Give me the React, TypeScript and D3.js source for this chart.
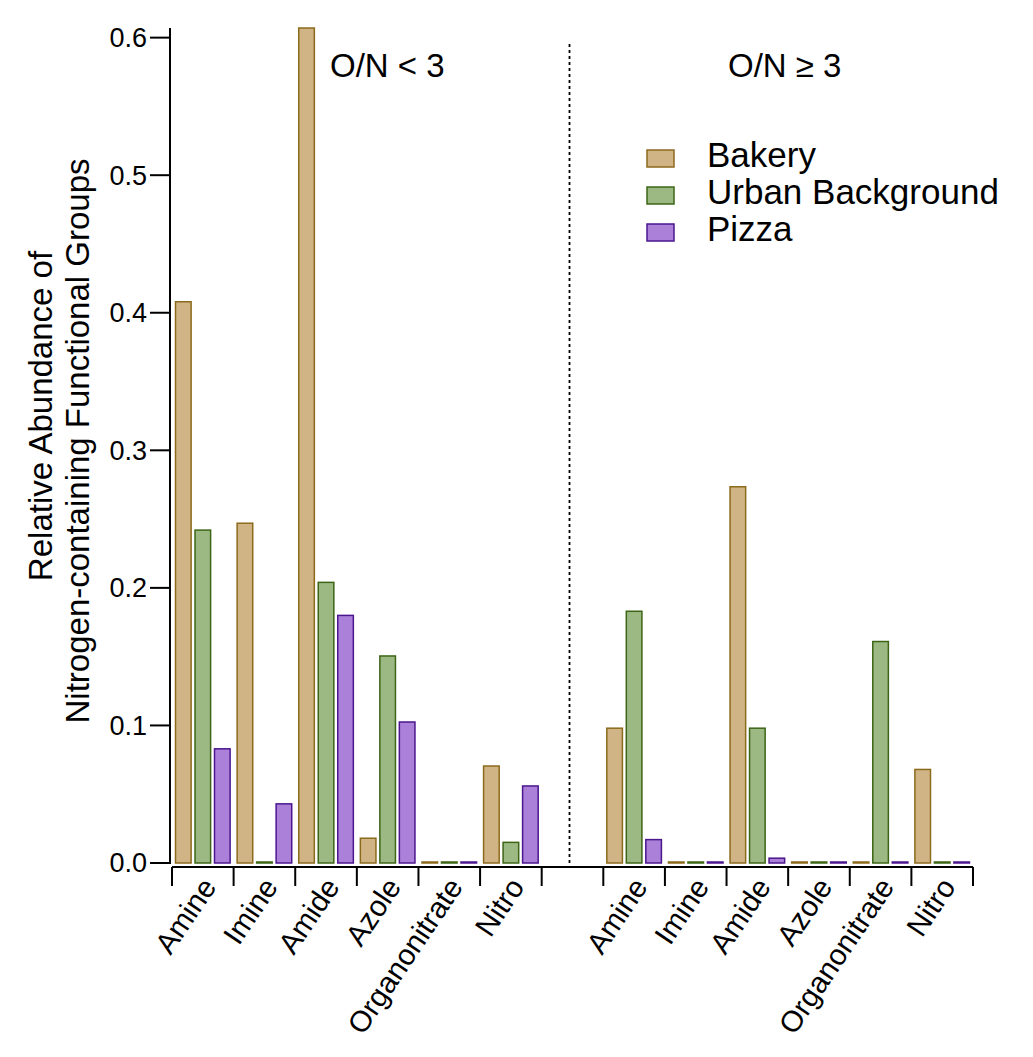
import React from 'react';
import * as d3 from 'd3';

// Functional groups (same set in both O/N panels)
const categories = ['Amine', 'Imine', 'Amide', 'Azole', 'Organonitrate', 'Nitro'];
const seriesNames = ['Bakery', 'Urban Background', 'Pizza'];

// O/N < 3
const lowBakery = [0.408, 0.247, 0.607, 0.018, 0, 0.0705];
const lowUrban = [0.242, 0, 0.204, 0.1505, 0, 0.015];
const lowPizza = [0.083, 0.043, 0.18, 0.1025, 0, 0.056];

// O/N >= 3
const highBakery = [0.098, 0, 0.2735, 0, 0, 0.068];
const highUrban = [0.183, 0, 0.098, 0, 0.161, 0];
const highPizza = [0.017, 0, 0.0035, 0, 0, 0];

const yTicks = [0, 0.1, 0.2, 0.3, 0.4, 0.5, 0.6];
const panelTitles = ['O/N < 3', 'O/N \u2265 3'];

const fills = ['#d0b486', '#9db983', '#aa80d8'];
const strokes = ['#8c6a1c', '#3c6516', '#4c168f'];

const FONT = '"Liberation Sans", Arial, Helvetica, sans-serif';

interface Slot {
  key: string;
  label: string | null;
  values: number[];
}

const slots: Slot[] = [
  ...categories.map((c, i) => ({ key: 'low-' + c, label: c, values: [lowBakery[i], lowUrban[i], lowPizza[i]] })),
  { key: 'gap', label: null, values: [] },
  ...categories.map((c, i) => ({ key: 'high-' + c, label: c, values: [highBakery[i], highUrban[i], highPizza[i]] })),
];

const App: React.FC = () => {
  const width = 1033;
  const height = 1057;
  const left = 172;
  const right = 973;
  const baseY = 863;
  const axisY = 867;

  const x = d3.scaleBand<string>().domain(slots.map(s => s.key)).range([left, right]).padding(0);
  const inner = d3.scaleBand<string>().domain(seriesNames).range([0, x.bandwidth()])
    .paddingInner(0.2).paddingOuter(0.18);
  const y = d3.scaleLinear().domain([0, 0.607]).range([baseY, 28]);

  const boundaries = [...slots.map(s => x(s.key) as number), right];
  const gapCenter = (x('gap') as number) + x.bandwidth() / 2 - 3;

  return (
    <svg width={width} height={height} style={{ position: 'absolute', left: 0, top: 0, background: '#fff' }}
      fontFamily={FONT}>
      {/* bars */}
      {slots.map(s => (
        <g key={s.key} transform={`translate(${x(s.key)},0)`}>
          {s.values.map((v, i) => {
            const top = y(v);
            return (
              <rect key={i} x={inner(seriesNames[i])} y={Math.min(top, baseY - 1)}
                width={inner.bandwidth()} height={Math.max(baseY - top, 1)}
                fill={fills[i]} stroke={strokes[i]} strokeWidth={1.5} />
            );
          })}
        </g>
      ))}

      {/* y axis */}
      <line x1={170} x2={170} y1={y(0.607)} y2={baseY + 1} stroke="#000" strokeWidth={2} />
      {yTicks.map(t => (
        <g key={t} transform={`translate(0,${y(t)})`}>
          <line x1={150} x2={170} stroke="#000" strokeWidth={2} />
          <text x={147} dy="0.35em" textAnchor="end" fontSize={27}>{t.toFixed(1)}</text>
        </g>
      ))}

      {/* x axis */}
      <line x1={left} x2={right} y1={axisY} y2={axisY} stroke="#000" strokeWidth={2} />
      {boundaries.map((b, i) => (
        <line key={i} x1={b} x2={b} y1={axisY} y2={axisY + 19} stroke="#000" strokeWidth={2} />
      ))}
      {slots.filter(s => s.label).map(s => {
        const cx = (x(s.key) as number) + x.bandwidth() / 2 + 6;
        return (
          <text key={s.key} transform={`translate(${cx},${axisY + 14}) rotate(-56)`}
            textAnchor="end" dy="0.35em" fontSize={29.5}>{s.label}</text>
        );
      })}

      {/* y label */}
      <g transform="rotate(-90)">
        <text x={-416} y={52} textAnchor="middle" fontSize={33}>Relative Abundance of</text>
        <text x={-441} y={89} textAnchor="middle" fontSize={33}>Nitrogen-containing Functional Groups</text>
      </g>

      {/* divider */}
      <line x1={gapCenter} x2={gapCenter} y1={44} y2={axisY - 1} stroke="#000" strokeWidth={1.8}
        strokeDasharray="3,3" />

      {/* panel titles */}
      <text x={330} y={77} fontSize={33}>{panelTitles[0]}</text>
      <text x={728} y={77} fontSize={33}>{panelTitles[1]}</text>

      {/* legend */}
      {seriesNames.map((n, i) => (
        <g key={n} transform={`translate(647,${167 + i * 37})`}>
          <rect x={0} y={-17} width={27} height={17} fill={fills[i]} stroke={strokes[i]} strokeWidth={1.5} />
          <text x={60} y={0} fontSize={35}>{n}</text>
        </g>
      ))}
    </svg>
  );
};

export default App;
